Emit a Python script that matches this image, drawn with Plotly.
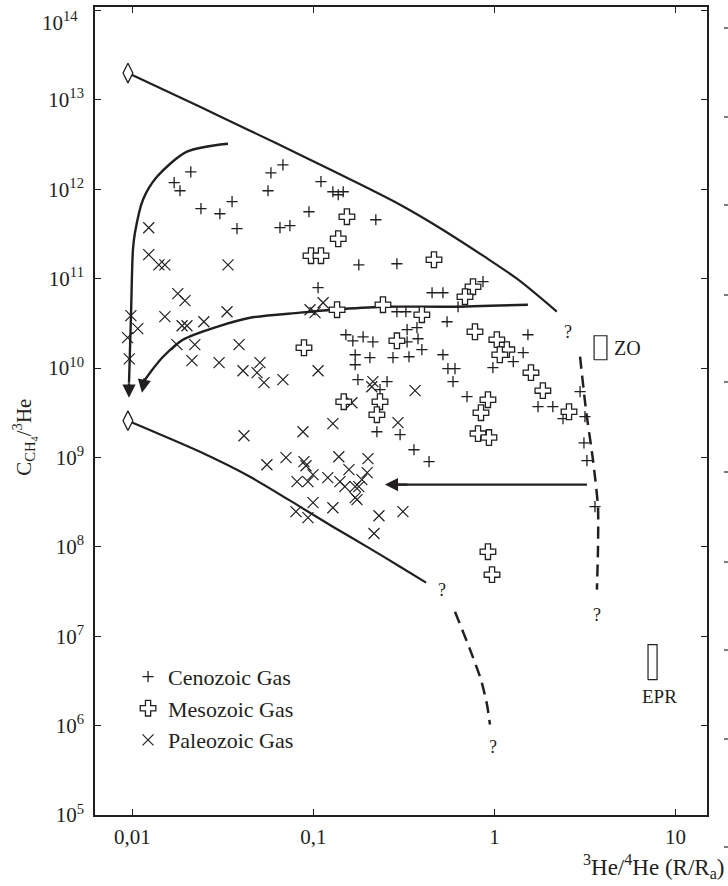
import numpy as np
import plotly.graph_objects as go

# ---------------- data ----------------
ceno_x = [0.0210, 0.0170, 0.0183, 0.0239, 0.0304, 0.0355, 0.0378, 0.0582, 0.0678, 0.0561,
          0.110, 0.128, 0.137, 0.146, 0.0944, 0.0653, 0.0741, 0.106, 0.221, 0.178,
          0.289, 0.151, 0.165, 0.188, 0.213, 0.170, 0.170, 0.205, 0.275, 0.337,
          0.289, 0.324, 0.329, 0.373, 0.329, 0.378, 0.397, 0.452, 0.519, 0.629,
          0.864, 0.547, 0.519, 0.553, 0.605, 0.590, 0.705, 0.176, 0.255, 0.233,
          0.224, 0.301, 0.359, 0.435, 1.53, 1.44, 1.27, 0.98, 1.74, 2.10,
          2.39, 2.97, 3.16, 3.12, 3.24, 3.59]
ceno_y = [1.57e12, 1.19e12, 9.64e11, 6.07e11, 5.33e11, 7.27e11, 3.63e11, 1.53e12, 1.88e12, 9.64e11,
          1.22e12, 9.4e11, 8.7e11, 9.4e11, 5.61e11, 3.72e11, 3.92e11, 7.93e10, 4.57e11, 1.43e11,
          1.47e11, 2.36e10, 2.02e10, 2.24e10, 1.97e10, 1.41e10, 1.09e10, 1.31e10, 1.31e10, 1.34e10,
          4.27e10, 4.27e10, 2.69e10, 2.83e10, 1.97e10, 2.13e10, 1.61e10, 6.97e10, 6.97e10, 4.86e10,
          9.26e10, 3.30e10, 1.41e10, 9.85e9, 9.85e9, 7.05e9, 4.79e9, 7.42e9, 7.05e9, 5.73e9,
          1.94e9, 1.80e9, 1.22e9, 8.97e8, 2.36e10, 1.49e10, 1.18e10, 1.01e10, 3.70e9, 3.70e9,
          2.72e9, 5.45e9, 2.86e9, 1.46e9, 9.21e8, 2.82e8]

meso_x = [0.153, 0.137, 0.0969, 0.110, 0.463, 0.761, 0.687, 0.135, 0.242, 0.397,
          0.0886, 0.289, 0.780, 1.03, 1.17, 1.07, 1.59, 1.85, 2.58, 0.147,
          0.233, 0.224, 0.92, 0.842, 0.811, 0.932, 0.92, 0.969]
meso_y = [4.94e11, 2.80e11, 1.81e11, 1.81e11, 1.63e11, 8.14e10, 6.29e10, 4.50e10, 5.12e10, 3.96e10,
          1.69e10, 2.02e10, 2.55e10, 2.08e10, 1.61e10, 1.41e10, 8.89e9, 5.59e9, 3.25e9, 4.21e9,
          4.21e9, 3.01e9, 4.43e9, 3.17e9, 1.85e9, 1.67e9, 8.83e7, 4.89e7]

paleo_x = [0.0123, 0.0123, 0.0140, 0.0151, 0.0337, 0.0178, 0.0195, 0.0098, 0.0107, 0.0094,
           0.0096, 0.0151, 0.0188, 0.0200, 0.0248, 0.0333, 0.0176, 0.0221, 0.0213, 0.0388,
           0.0301, 0.0408, 0.0488, 0.0506, 0.0533, 0.0678, 0.106, 0.0957, 0.113, 0.102,
           0.210, 0.213, 0.364, 0.163, 0.128, 0.293, 0.0413, 0.0875, 0.0553, 0.0705,
           0.0886, 0.0909, 0.138, 0.200, 0.157, 0.198, 0.0994, 0.0811, 0.0932, 0.120,
           0.140, 0.149, 0.170, 0.185, 0.178, 0.170, 0.174, 0.0994, 0.080, 0.128,
           0.0932, 0.230, 0.312, 0.216]
paleo_y = [3.72e11, 1.86e11, 1.43e11, 1.43e11, 1.43e11, 6.80e10, 5.68e10, 3.86e10, 2.76e10, 2.19e10,
           1.27e10, 3.76e10, 2.98e10, 2.98e10, 3.30e10, 4.27e10, 1.83e10, 1.83e10, 1.21e10, 1.83e10,
           1.15e10, 9.35e9, 8.89e9, 1.15e10, 6.87e9, 7.42e9, 9.35e9, 4.50e10, 5.39e10, 4.17e10,
           6.19e9, 7.05e9, 5.59e9, 4.10e9, 2.39e9, 2.45e9, 1.75e9, 1.94e9, 8.30e8, 9.95e8,
           8.97e8, 8.09e8, 1.02e9, 9.7e8, 7.3e8, 6.76e8, 6.42e8, 5.36e8, 5.36e8, 5.94e8,
           5.36e8, 4.71e8, 4.71e8, 5.65e8, 4.71e8, 3.55e8, 3.37e8, 3.12e8, 2.48e8, 2.74e8,
           2.12e8, 2.23e8, 2.48e8, 1.41e8]

# end-member diamonds
end_x = [0.00944, 0.00944]
end_y = [2.0e13, 2.58e9]

# mixing / trend curves
upper_x = [0.00944, 0.0236, 0.0446, 0.0841, 0.198, 0.301, 0.457, 0.864, 1.33, 2.21]
upper_y = [2.0e13, 8.39e12, 4.53e12, 2.44e12, 1.04e12, 6.73e11, 4.12e11, 1.81e11, 1.0e11, 4.28e10]
right_dash_x = [2.97, 3.20, 3.50, 3.73, 3.73, 3.68]
right_dash_y = [1.34e10, 3.43e9, 9.4e8, 2.82e8, 9.3e7, 3.32e7]
lower_x = [0.00944, 0.0236, 0.0446, 0.0841, 0.128, 0.198, 0.301, 0.419]
lower_y = [2.58e9, 1.16e9, 6.1e8, 2.82e8, 1.68e8, 1.0e8, 6.0e7, 3.98e7]
lower_dash_x = [0.605, 0.733, 0.842, 0.909, 0.944]
lower_dash_y = [1.88e7, 7.08e6, 3.27e6, 1.72e6, 1.03e6]

arrow1_x = [0.0337, 0.020, 0.01365, 0.01143, 0.01032, 0.01006, 0.00981, 0.00957]
arrow1_y = [3.24e12, 2.64e12, 1.38e12, 7.66e11, 3.27e11, 2.11e11, 3.76e10, 6.87e9]
arrow2_x = [1.53, 0.568, 0.242, 0.128, 0.0841, 0.0446, 0.0293, 0.019, 0.01476, 0.0125, 0.01143]
arrow2_y = [5.12e10, 4.86e10, 4.86e10, 4.5e10, 4.17e10, 3.66e10, 2.90e10, 2.08e10, 1.34e10, 8.89e9, 6.87e9]
arrow3_x = [3.24, 0.27]
arrow3_y = [4.97e8, 4.97e8]
arrow_tips_x = [0.00957, 0.01128, 0.248]
arrow_tips_y = [4.67e9, 5.31e9, 4.97e8]

# field boxes (ZO, EPR)
zo_x = [3.55, 4.18]
zo_y = [1.24e10, 2.30e10]
epr_x = [7.05, 7.91]
epr_y = [3.27e6, 8.05e6]

# labels
q_x = [2.55, 3.68, 0.513, 0.981]
q_y = [2.55e10, 1.75e7, 3.32e7, 5.82e5]
zo_label = (4.46, 1.69e10)
epr_label = (8.2, 2.11e6)

x_tickvals = [0.01, 0.1, 1, 10]
x_ticktext = ["0,01", "0,1", "1", "10"]
y_exps = list(range(5, 15))

# ---------------- figure ----------------
INK = "#231f20"
FONT = "Liberation Serif, Times New Roman, serif"

fig = go.Figure()

def line_trace(x, y, dash=None, width=2.2, smoothing=0.6):
    return go.Scatter(x=x, y=y, mode="lines", showlegend=False, hoverinfo="skip",
                      line=dict(color=INK, width=width, shape="spline", smoothing=smoothing,
                                dash=dash))

fig.add_trace(line_trace(upper_x, upper_y, smoothing=0.9))
fig.add_trace(line_trace(right_dash_x, right_dash_y, dash="12px,7px", width=2.5))
fig.add_trace(line_trace(lower_x, lower_y))
fig.add_trace(line_trace(lower_dash_x, lower_dash_y, dash="12px,7px", width=2.5))
fig.add_trace(line_trace(arrow1_x, arrow1_y, width=2.4, smoothing=0.8))
fig.add_trace(line_trace(arrow2_x, arrow2_y, width=2.4, smoothing=0.8))
fig.add_trace(line_trace(arrow3_x, arrow3_y, width=2.4))

# boxes
for bx, by in [(zo_x, zo_y), (epr_x, epr_y)]:
    fig.add_trace(go.Scatter(
        x=[bx[0], bx[1], bx[1], bx[0], bx[0]],
        y=[by[0], by[0], by[1], by[1], by[0]],
        mode="lines", fill="toself", fillcolor="white",
        line=dict(color=INK, width=1.2), showlegend=False, hoverinfo="skip"))

# diamonds
fig.add_trace(go.Scatter(x=end_x, y=end_y, mode="markers", showlegend=False,
                         marker=dict(symbol="diamond-tall", size=14, color="white",
                                     line=dict(color=INK, width=1.3))))

fig.add_trace(go.Scatter(x=paleo_x, y=paleo_y, mode="markers", name="Paleozoic Gas",
                         legendrank=3,
                         marker=dict(symbol="x-thin", size=11,
                                     line=dict(color=INK, width=1.2))))
fig.add_trace(go.Scatter(x=ceno_x, y=ceno_y, mode="markers", name="Cenozoic Gas",
                         legendrank=1,
                         marker=dict(symbol="cross-thin", size=8,
                                     line=dict(color=INK, width=1.3))))
fig.add_trace(go.Scatter(x=meso_x, y=meso_y, mode="markers", name="Mesozoic Gas",
                         legendrank=2,
                         marker=dict(symbol="cross", size=13, color="white",
                                     line=dict(color=INK, width=1.3))))

annotations = []
# arrow heads
offsets = [(0, -16), (3, -16), (24, 0)]
for (tx, ty), (ax, ay) in zip(zip(arrow_tips_x, arrow_tips_y), offsets):
    annotations.append(dict(x=np.log10(tx), y=np.log10(ty), xref="x", yref="y",
                            ax=ax, ay=ay, text="", showarrow=True, arrowhead=2,
                            arrowsize=1.1, arrowwidth=2.4, arrowcolor=INK))
for qx, qy in zip(q_x, q_y):
    annotations.append(dict(x=np.log10(qx), y=np.log10(qy), xref="x", yref="y",
                            text="?", showarrow=False,
                            font=dict(family=FONT, size=18, color=INK)))
annotations.append(dict(x=np.log10(zo_label[0]), y=np.log10(zo_label[1]), xref="x", yref="y",
                        text="ZO", showarrow=False, xanchor="left",
                        font=dict(family=FONT, size=20, color=INK)))
annotations.append(dict(x=np.log10(epr_label[0]), y=np.log10(epr_label[1]), xref="x", yref="y",
                        text="EPR", showarrow=False,
                        font=dict(family=FONT, size=19, color=INK)))
# top y tick label, set slightly below its tick as in the reference
annotations.append(dict(x=-0.024, y=0.982, xref="paper", yref="paper", xanchor="right",
                        yanchor="middle", text=f"10<sup>{y_exps[-1]}</sup>", showarrow=False,
                        font=dict(family=FONT, size=21, color=INK)))
# axis titles
annotations.append(dict(x=-0.143, y=0.468, xref="paper", yref="paper", textangle=-90,
                        text="C<sub>CH<sub>4</sub></sub>/<sup>3</sup>He", showarrow=False,
                        font=dict(family=FONT, size=21, color=INK)))
annotations.append(dict(x=1.031, y=-0.085, xref="paper", yref="paper", xanchor="right",
                        text="<sup>3</sup>He/<sup>4</sup>He (R/R<sub>a</sub>)", showarrow=False,
                        font=dict(family=FONT, size=23, color=INK)))

# tick marks of neighbouring panel (cut off at the right edge)
shapes = []
for ypx in [28, 117, 205, 295, 382, 472, 562, 650, 739, 847]:
    yp = (815 - ypx) / 808
    shapes.append(dict(type="line", xref="paper", yref="paper", x0=1.0278, x1=1.0343,
                       y0=yp, y1=yp, line=dict(color=INK, width=1.2)))

axis_common = dict(showgrid=False, zeroline=False, showline=True, linecolor=INK,
                   linewidth=1.6, mirror="ticks", ticks="inside", ticklen=6,
                   tickwidth=1.3, tickcolor=INK, ticklabeloverflow="allow",
                   automargin=False,
                   tickfont=dict(family=FONT, size=21, color=INK))

y_ticktext = [f"10<sup>{e}</sup>" for e in y_exps[:-1]] + [""]

fig.update_xaxes(type="log", range=[-2.207, 1.174], tickvals=x_tickvals,
                 ticktext=x_ticktext, ticklabelstandoff=2, **axis_common)
fig.update_yaxes(type="log", range=[5, 14.04], tickvals=[10.0 ** e for e in y_exps],
                 ticktext=y_ticktext, ticklabelstandoff=5,
                 **axis_common)

fig.update_layout(
    width=728, height=886, autosize=False,
    margin=dict(l=95, r=21, t=7, b=71),
    paper_bgcolor="white", plot_bgcolor="white",
    font=dict(family=FONT, color=INK),
    showlegend=True,
    legend=dict(x=0.054, y=0.197, xanchor="left", yanchor="top",
                bgcolor="rgba(0,0,0,0)", font=dict(family=FONT, size=22, color=INK),
                itemsizing="trace"),
    annotations=annotations, shapes=shapes,
)

fig.write_html("out.html")
